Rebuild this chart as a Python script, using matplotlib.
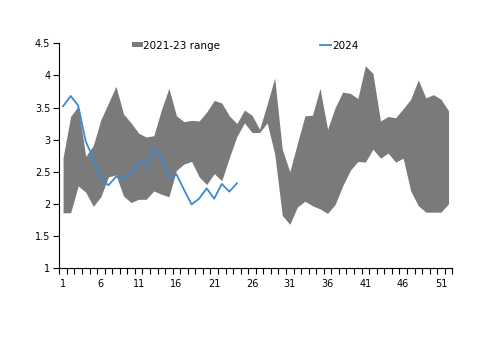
import matplotlib
matplotlib.use("Agg")
import matplotlib.pyplot as plt
from matplotlib.patches import Patch
from matplotlib.lines import Line2D

weeks = list(range(1, 53))

# 2021-23 range, upper and lower bound per week
rangeHigh = [2.72, 3.36, 3.52, 2.74, 2.91, 3.31, 3.57, 3.83, 3.40, 3.26,
             3.10, 3.04, 3.06, 3.46, 3.80, 3.37, 3.28, 3.30, 3.29, 3.43,
             3.61, 3.57, 3.37, 3.25, 3.46, 3.38, 3.16, 3.55, 3.96, 2.85,
             2.50, 2.94, 3.37, 3.38, 3.80, 3.16, 3.50, 3.74, 3.72, 3.64,
             4.15, 4.03, 3.29, 3.36, 3.34, 3.48, 3.63, 3.93, 3.65, 3.70,
             3.63, 3.45]
rangeLow = [1.86, 1.86, 2.28, 2.18, 1.96, 2.11, 2.42, 2.45, 2.12, 2.02,
            2.07, 2.07, 2.20, 2.15, 2.11, 2.52, 2.62, 2.66, 2.42, 2.30,
            2.47, 2.36, 2.72, 3.05, 3.26, 3.11, 3.11, 3.26, 2.78, 1.82,
            1.68, 1.95, 2.04, 1.97, 1.92, 1.85, 1.99, 2.28, 2.52, 2.66,
            2.65, 2.85, 2.71, 2.79, 2.65, 2.71, 2.20, 1.97, 1.87, 1.87,
            1.87, 2.00]

# 2024, first 24 weeks
weeks2024 = list(range(1, 25))
val2024 = [3.52, 3.68, 3.53, 2.97, 2.71, 2.38, 2.29, 2.42, 2.40, 2.46,
           2.66, 2.59, 2.86, 2.72, 2.41, 2.46, 2.22, 1.99, 2.08, 2.24,
           2.08, 2.31, 2.19, 2.32]

grey = "#7a7a7a"
blue = "#3a8ad4"

plt.rcParams["font.family"] = "DejaVu Sans"

fig = plt.figure(figsize=(5, 3.53), dpi=100)
ax = fig.add_axes([0.1186, 0.2408, 0.786, 0.6365])

ax.fill_between(weeks, rangeLow, rangeHigh, color=grey, linewidth=0)
ax.plot(weeks2024, val2024, color=blue, linewidth=1.3)

ax.set_xlim(0.5, 52.5)
ax.set_ylim(1, 4.5)
ax.set_yticks([1, 1.5, 2, 2.5, 3, 3.5, 4, 4.5])
ax.set_yticklabels(["1", "1.5", "2", "2.5", "3", "3.5", "4", "4.5"])
ax.set_xticks(range(1, 53, 5))
ax.set_xticks([w + 0.5 for w in range(0, 53)], minor=True)
ax.tick_params(axis="x", which="major", length=0, labelsize=7, pad=8)
ax.tick_params(axis="x", which="minor", length=4, width=0.8, direction="out")
ax.tick_params(axis="y", length=4, width=0.8, labelsize=7, pad=2.5)

for s in ["top", "right"]:
    ax.spines[s].set_visible(False)
ax.spines["left"].set_linewidth(0.8)
ax.spines["bottom"].set_linewidth(0.8)

handles = [Patch(facecolor=grey, edgecolor="none"),
           Line2D([], [], color=blue, linewidth=1.3)]
fig.legend(handles, ["2021-23 range", "2024"], ncol=2, frameon=False,
           loc="center left", bbox_to_anchor=(0.264, 0.871), fontsize=7.5,
           handlelength=1.05, handleheight=0.4, handletextpad=0.05,
           columnspacing=9.6, borderaxespad=0, borderpad=0)

fig.savefig("out.png", dpi=100)
